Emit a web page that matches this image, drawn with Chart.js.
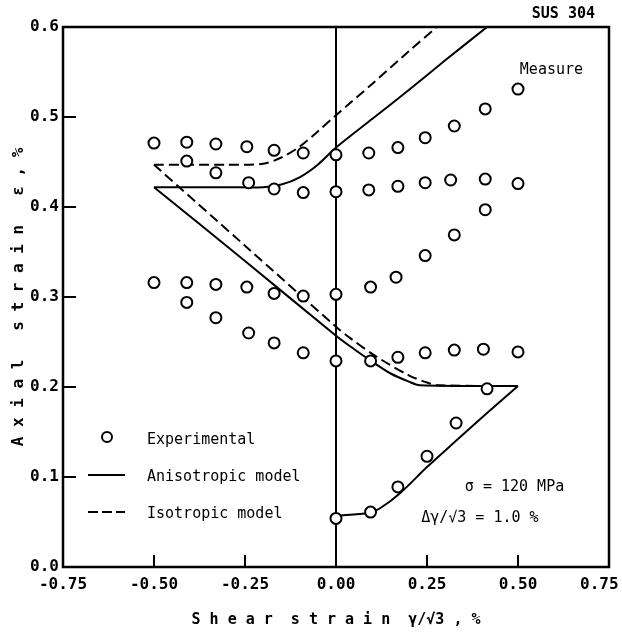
<!DOCTYPE html>
<html>
<head>
<meta charset="utf-8">
<script src="https://cdn.jsdelivr.net/npm/chart.js@4.4.0/dist/chart.umd.min.js"></script>
<style>
  html, body { margin: 0; padding: 0; background: #fff; }
</style>
</head>
<body>
<canvas id="strainChart" width="622" height="635"></canvas>
<script>
// axis ticks
var xTicks = [-0.75, -0.5, -0.25, 0, 0.25, 0.5, 0.75];
var yTicks = [0, 0.1, 0.2, 0.3, 0.4, 0.5, 0.6];

// experimental points (shear strain, axial strain)
var expX = [-0.5, -0.41, -0.33, -0.245, -0.17, -0.09,
            -0.41, -0.33, -0.24, -0.17, -0.09,
            -0.5, -0.41, -0.33, -0.245, -0.17, -0.09,
            -0.41, -0.33, -0.24, -0.17, -0.09,
            0, 0, 0, 0, 0,
            0.09, 0.17, 0.245, 0.325, 0.41,
            0.09, 0.17, 0.245, 0.315, 0.41, 0.5,
            0.41, 0.325, 0.245, 0.165, 0.095,
            0.095, 0.17, 0.245, 0.325, 0.405, 0.5,
            0.095, 0.17, 0.25, 0.33, 0.415];
var expY = [0.471, 0.472, 0.470, 0.467, 0.463, 0.460,
            0.451, 0.438, 0.427, 0.420, 0.416,
            0.316, 0.316, 0.314, 0.311, 0.304, 0.301,
            0.294, 0.277, 0.260, 0.249, 0.238,
            0.458, 0.417, 0.303, 0.229, 0.054,
            0.460, 0.466, 0.477, 0.490, 0.509,
            0.419, 0.423, 0.427, 0.430, 0.431, 0.426,
            0.397, 0.369, 0.346, 0.322, 0.311,
            0.229, 0.233, 0.238, 0.241, 0.242, 0.239,
            0.061, 0.089, 0.123, 0.160, 0.198];
var measureX = [0.5];
var measureY = [0.531];

// anisotropic model (solid)
var anisoUpX = [-0.5, -0.3, -0.2, -0.15, -0.1, -0.05, 0, 0.1, 0.2, 0.3, 0.415];
var anisoUpY = [0.422, 0.422, 0.422, 0.425, 0.433, 0.447, 0.466, 0.498, 0.530, 0.563, 0.6];
var anisoDownX = [-0.5, -0.25, 0, 0.05, 0.1, 0.15, 0.2, 0.23, 0.5];
var anisoDownY = [0.422, 0.340, 0.257, 0.242, 0.228, 0.215, 0.206, 0.202, 0.201];
var anisoLowX = [0, 0.09, 0.12, 0.176, 0.25, 0.332, 0.415, 0.5];
var anisoLowY = [0.057, 0.060, 0.065, 0.082, 0.111, 0.141, 0.171, 0.201];

// isotropic model (dashed)
var isoUpX = [-0.5, -0.3, -0.2, -0.15, -0.1, -0.05, 0, 0.1, 0.2, 0.277];
var isoUpY = [0.447, 0.447, 0.448, 0.455, 0.467, 0.484, 0.502, 0.537, 0.573, 0.6];
var isoDownX = [-0.5, -0.25, 0, 0.04, 0.11, 0.2, 0.25, 0.28, 0.5];
var isoDownY = [0.447, 0.357, 0.267, 0.254, 0.234, 0.213, 0.205, 0.202, 0.201];

var mono = '"DejaVu Sans Mono", monospace';

function pts(xs, ys) {
  return xs.map(function (x, i) { return { x: x, y: ys[i] }; });
}

function lineSet(xs, ys, dash) {
  return {
    data: pts(xs, ys),
    showLine: true,
    borderColor: '#000',
    borderWidth: 2,
    borderDash: dash,
    pointRadius: 0,
    tension: 0.3,
    fill: false
  };
}

var overlay = {
  id: 'overlay',
  beforeDatasetsDraw: function (chart) {
    var c = chart.ctx, a = chart.chartArea;
    var xs = chart.scales.x, ys = chart.scales.y;
    c.save();
    c.strokeStyle = '#000';

    // frame
    c.lineWidth = 2.5;
    c.strokeRect(a.left, a.top, a.right - a.left, a.bottom - a.top);

    // zero shear line
    c.lineWidth = 2;
    var x0 = xs.getPixelForValue(0);
    c.beginPath(); c.moveTo(x0, a.top); c.lineTo(x0, a.bottom); c.stroke();

    // inward ticks
    yTicks.slice(1, -1).forEach(function (v) {
      var py = ys.getPixelForValue(v);
      c.beginPath(); c.moveTo(a.left, py); c.lineTo(a.left + 13, py); c.stroke();
    });
    xTicks.slice(1, -1).forEach(function (v) {
      if (v === 0) return;
      var px = xs.getPixelForValue(v);
      c.beginPath(); c.moveTo(px, a.bottom); c.lineTo(px, a.bottom - 12); c.stroke();
    });
    c.restore();
  },
  afterDatasetsDraw: function (chart) {
    var c = chart.ctx, a = chart.chartArea;
    var xs = chart.scales.x, ys = chart.scales.y;
    c.save();
    c.strokeStyle = '#000';
    c.fillStyle = '#000';

    // legend
    c.font = '15px ' + mono;
    c.textBaseline = 'middle';
    c.textAlign = 'left';
    c.lineWidth = 2;
    c.beginPath(); c.arc(a.left + 44, a.bottom - 130, 5, 0, Math.PI * 2); c.stroke();
    c.fillText('Experimental', a.left + 84, a.bottom - 127);
    c.beginPath(); c.moveTo(a.left + 25, a.bottom - 92); c.lineTo(a.left + 62, a.bottom - 92); c.stroke();
    c.fillText('Anisotropic model', a.left + 84, a.bottom - 90);
    c.setLineDash([10, 4]);
    c.beginPath(); c.moveTo(a.left + 25, a.bottom - 55); c.lineTo(a.left + 62, a.bottom - 55); c.stroke();
    c.setLineDash([]);
    c.fillText('Isotropic model', a.left + 84, a.bottom - 53);

    // notes
    c.fillText('Measure', xs.getPixelForValue(0.505), ys.getPixelForValue(0.552));
    c.fillText('\u03C3 = 120 MPa', xs.getPixelForValue(0.354), ys.getPixelForValue(0.089));
    c.fillText('\u0394\u03B3/\u221A3 = 1.0 %', xs.getPixelForValue(0.234), ys.getPixelForValue(0.054));
    c.font = 'bold 15px ' + mono;
    c.textAlign = 'right';
    c.fillText('SUS 304', a.right - 14, 14);
    c.restore();
  }
};

var ctx = document.getElementById('strainChart').getContext('2d');
var strainChart = new Chart(ctx, {
  type: 'scatter',
  data: {
    datasets: [
      {
        data: pts(expX, expY),
        pointStyle: 'circle',
        pointRadius: 5.5,
        pointBorderWidth: 2,
        pointBackgroundColor: '#fff',
        pointBorderColor: '#000'
      },
      {
        data: pts(measureX, measureY),
        pointRadius: 5.5,
        pointBorderWidth: 2,
        pointBackgroundColor: '#fff',
        pointBorderColor: '#000'
      },
      {
        data: pts(measureX, measureY),
        pointRadius: 1.5,
        pointBorderWidth: 0,
        pointBackgroundColor: '#000'
      },
      lineSet(anisoUpX, anisoUpY, []),
      lineSet(anisoDownX, anisoDownY, []),
      lineSet(anisoLowX, anisoLowY, []),
      lineSet(isoUpX, isoUpY, [10, 5]),
      lineSet(isoDownX, isoDownY, [10, 5])
    ]
  },
  plugins: [overlay],
  options: {
    responsive: false,
    animation: false,
    devicePixelRatio: 1,
    layout: { padding: { left: 0, right: 13, top: 27, bottom: 0 } },
    plugins: {
      legend: { display: false },
      tooltip: { enabled: false }
    },
    scales: {
      x: {
        type: 'linear',
        min: -0.75,
        max: 0.75,
        afterBuildTicks: function (s) { s.ticks = xTicks.map(function (v) { return { value: v }; }); },
        afterFit: function (s) { s.height = 68; s.paddingLeft = 0; s.paddingRight = 0; },
        grid: { display: false, drawTicks: false },
        border: { display: false },
        ticks: {
          color: '#000',
          padding: 8,
          font: { family: mono, size: 16, weight: 'bold' },
          // last label is nudged left so it stays on the page
          callback: function (v) { return v === 0.75 ? v.toFixed(2) + '  ' : v.toFixed(2); }
        },
        title: {
          display: true,
          text: 'S h e a r  s t r a i n  \u03B3/\u221A3 , %',
          color: '#000',
          font: { family: mono, size: 15, weight: 'bold' },
          padding: { top: 0, bottom: 6 }
        }
      },
      y: {
        type: 'linear',
        min: 0,
        max: 0.6,
        afterBuildTicks: function (s) { s.ticks = yTicks.map(function (v) { return { value: v }; }); },
        afterFit: function (s) { s.width = 63; s.paddingTop = 0; s.paddingBottom = 0; },
        grid: { display: false, drawTicks: false },
        border: { display: false },
        ticks: {
          color: '#000',
          padding: 4,
          font: { family: mono, size: 16, weight: 'bold' },
          callback: function (v) { return v.toFixed(1); }
        },
        title: {
          display: true,
          text: 'A x i a l   s t r a i n   \u03B5 , %',
          color: '#000',
          font: { family: mono, size: 16, weight: 'bold' },
          padding: { top: 9, bottom: 0 }
        }
      }
    }
  }
});
</script>
</body>
</html>
